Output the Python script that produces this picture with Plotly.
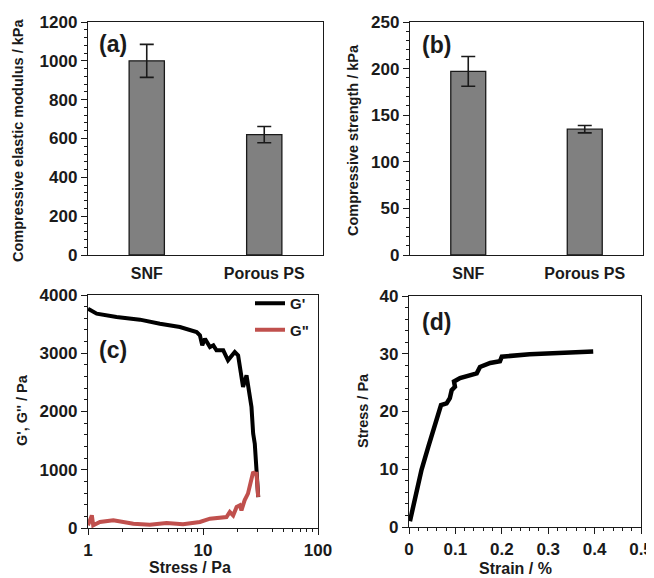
import plotly.graph_objects as go

# ---------------- data ----------------
categories = ["SNF", "Porous PS"]
modulus_kpa = [1000, 620]
modulus_err = [85, 42]
strength_kpa = [197, 135]
strength_err = [16, 4]

# (c) amplitude sweep
gp_stress = [1.0, 1.19, 1.77, 2.83, 4.22, 6.3, 8.8, 9.4, 9.85, 10.4, 11.5, 12.3, 13.1, 15.0,
             16.5, 18.9, 20.2, 22.3, 23.9, 25.2, 26.4, 27.3, 28.2, 29.2, 30.2]
gp_values = [3765, 3680, 3622, 3577, 3508, 3450, 3365, 3308, 3136, 3250, 3107, 3136, 3050, 3050,
             2878, 3021, 2964, 2420, 2620, 2363, 2077, 1620, 1448, 990, 532]
gpp_stress = [1.0, 1.08, 1.11, 1.27, 1.66, 2.48, 3.45, 4.82, 6.7, 9.4, 11.5, 14.0, 16.0, 17.1,
              18.3, 19.6, 20.9, 21.6, 23.0, 24.6, 25.4, 26.4, 27.3, 28.2, 29.2, 30.2]
gpp_values = [46, 217, 46, 103, 132, 74, 57, 86, 63, 103, 160, 177, 189, 275,
              217, 360, 389, 303, 475, 590, 704, 904, 961, 933, 933, 532]

# (d) stress-strain
strain_pct = [0.002, 0.013, 0.027, 0.042, 0.056, 0.063, 0.069, 0.081, 0.088, 0.092, 0.099,
              0.097, 0.11, 0.146, 0.153, 0.175, 0.196, 0.2, 0.26, 0.397]
stress_pa = [1.0, 5.3, 9.9, 14.0, 17.4, 19.7, 21.1, 21.4, 22.3, 23.7, 24.3,
             25.2, 25.8, 26.6, 27.7, 28.4, 28.7, 29.5, 29.9, 30.4]

# ---------------- styling helpers ----------------
W, H = 654, 578
OFF = 8  # default page body margin
FONT = "Liberation Sans, Arial, sans-serif"
INK = "#1a1a1a"
TICKFONT = dict(family=FONT, size=17, color=INK, weight=700)
CATFONT = dict(family=FONT, size=16, color=INK, weight=700)


def px_x(p):
    return (p - OFF) / W


def px_y(p):
    return 1 - (p - OFF) / H


def ax(domain, **kw):
    base = dict(domain=domain, showline=True, linecolor=INK, linewidth=1.3, mirror=True,
                showgrid=False, zeroline=False, tickfont=TICKFONT, ticks="outside",
                ticklen=6, tickwidth=1.3, tickcolor=INK, automargin=False)
    base.update(kw)
    return base


fig = go.Figure()

bar_style = dict(marker=dict(color="#808080", line=dict(color=INK, width=1.3)), width=0.3)
err_style = dict(type="data", color=INK, thickness=1.6, width=7)

fig.add_trace(go.Bar(x=categories, y=modulus_kpa, error_y=dict(array=modulus_err, **err_style),
                     xaxis="x", yaxis="y", showlegend=False, **bar_style))
fig.add_trace(go.Bar(x=categories, y=strength_kpa, error_y=dict(array=strength_err, **err_style),
                     xaxis="x2", yaxis="y2", showlegend=False, **bar_style))

fig.add_trace(go.Scatter(x=gp_stress, y=gp_values, mode="lines", name="G'",
                         line=dict(color="black", width=4), xaxis="x3", yaxis="y3",
                         legendgroup="a"))
fig.add_trace(go.Scatter(x=gpp_stress, y=gpp_values, mode="lines", name='G"',
                         line=dict(color="#C0504D", width=4), xaxis="x3", yaxis="y3",
                         legendgroup="b"))

fig.add_trace(go.Scatter(x=strain_pct, y=stress_pa, mode="lines", showlegend=False,
                         line=dict(color="black", width=4.5), xaxis="x4", yaxis="y4"))

minor_short = dict(ticks="outside", ticklen=3, tickwidth=1, tickcolor=INK)

fig.update_layout(
    template="none",
    width=W, height=H, margin=dict(l=0, r=0, t=0, b=0, autoexpand=False),
    paper_bgcolor="white", plot_bgcolor="white",
    font=dict(family=FONT, color=INK),
    xaxis=ax([px_x(88), px_x(323)], anchor="y", ticks="", ticklabelstandoff=4, tickfont=CATFONT),
    yaxis=ax([px_y(255), px_y(22)], anchor="x", range=[0, 1200], dtick=200,
             minor=dict(dtick=40, **minor_short)),
    xaxis2=ax([px_x(410), px_x(643)], anchor="y2", ticks="", ticklabelstandoff=4, tickfont=CATFONT),
    yaxis2=ax([px_y(255), px_y(22)], anchor="x2", range=[0, 250], dtick=50,
              minor=dict(dtick=10, **minor_short)),
    xaxis3=ax([px_x(88), px_x(318)], anchor="y3", type="log", range=[0, 2],
              tickvals=[1, 10, 100], ticktext=["1", "10", "100"], ticklabelstandoff=0,
              minor=dict(tickvals=[m * d for d in (1, 10) for m in range(2, 10)], **minor_short)),
    yaxis3=ax([px_y(528), px_y(295)], anchor="x3", range=[0, 4000], dtick=1000,
              minor=dict(dtick=200, **minor_short)),
    xaxis4=ax([px_x(409), px_x(641)], anchor="y4", range=[0, 0.5], dtick=0.1,
              ticklabelstandoff=0, minor=dict(dtick=0.02, **minor_short)),
    yaxis4=ax([px_y(527), px_y(296)], anchor="x4", range=[0, 40], dtick=10,
              minor=dict(dtick=2, **minor_short)),
    bargap=0.7,
    legend=dict(x=px_x(314), y=px_y(287), xanchor="right", yanchor="top",
                bgcolor="rgba(0,0,0,0)", font=dict(family=FONT, size=15, color=INK, weight=700),
                traceorder="grouped", tracegroupgap=4, itemwidth=30),
)

title_font = dict(family=FONT, size=14.5, color=INK, weight=700)
xtitle_font = dict(family=FONT, size=16, color=INK, weight=700)
annos = [
    dict(text="Compressive elastic modulus / kPa", x=px_x(18), y=px_y(140), textangle=-90,
         font=title_font),
    dict(text="Compressive strength / kPa", x=px_x(353), y=px_y(140), textangle=-90,
         font=title_font),
    dict(text="G', G'' / Pa", x=px_x(22), y=px_y(410), textangle=-90, font=title_font),
    dict(text="Stress / Pa", x=px_x(363), y=px_y(411), textangle=-90, font=title_font),
    dict(text="Stress / Pa", x=px_x(190), y=px_y(567), font=xtitle_font),
    dict(text="Strain / %", x=px_x(515), y=px_y(568), font=xtitle_font),
]
panel_font = dict(family=FONT, size=23, color=INK, weight=700)
for lbl, x, y in [("(a)", 113, 44), ("(b)", 436, 45), ("(c)", 113, 350), ("(d)", 436, 322)]:
    annos.append(dict(text=lbl, x=px_x(x), y=px_y(y), font=panel_font))
for a in annos:
    a.update(xref="paper", yref="paper", showarrow=False, xanchor="center", yanchor="middle")
fig.update_layout(annotations=annos)

fig.write_html("out.html")
